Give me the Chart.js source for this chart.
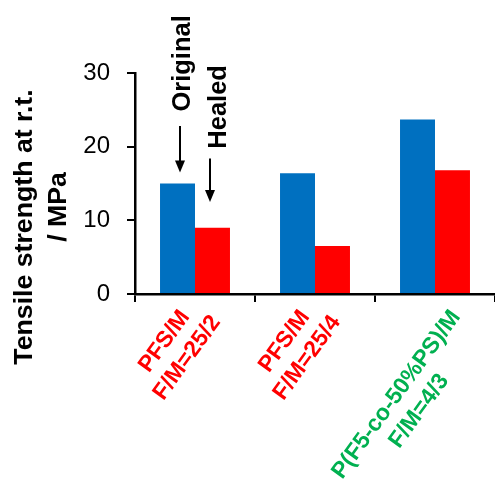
<!DOCTYPE html>
<html><head><meta charset="utf-8">
<script src="https://cdn.jsdelivr.net/npm/chart.js@4/dist/chart.umd.min.js"></script>
<style>html,body{margin:0;padding:0;background:#fff;} #wrap{width:495px;height:479px;}</style>
</head><body><div id="wrap"><canvas id="c" width="495" height="479"></canvas></div>
<script>
const categories = [["PFS/M", "F/M=25/2"], ["PFS/M", "F/M=25/4"], ["P(F5-co-50%PS)/M", "F/M=4/3"]];
const categoryColors = ["#FF0000", "#FF0000", "#00B050"];
const seriesNames = ["Original", "Healed"];
const originalValues = [15.0, 16.4, 23.7];
const healedValues = [9.0, 6.5, 16.8];
const yTicks = [0, 10, 20, 30];
const yTitle = ["Tensile strength at r.t.", "/ MPa"];

const FONT = 'Arial, "Liberation Sans", sans-serif';

function arrow(ctx, x, y1, y2) {
  const hl = 12, hw = 5;
  ctx.beginPath();
  ctx.moveTo(x, y1);
  ctx.lineTo(x, y2 - hl + 1);
  ctx.stroke();
  ctx.beginPath();
  ctx.moveTo(x - hw, y2 - hl);
  ctx.lineTo(x + hw, y2 - hl);
  ctx.lineTo(x, y2);
  ctx.closePath();
  ctx.fill();
}

const textPlugin = {
  id: 'texts',
  afterDraw(chart) {
    const ctx = chart.ctx, xs = chart.scales.x, ys = chart.scales.y;
    const area = chart.chartArea;
    ctx.save();
    // x category labels: rotated, centre-aligned lines; rotated box's top-right pinned near the category
    const fs = 23;
    ctx.font = 'bold ' + fs + 'px ' + FONT;
    const th = 54 * Math.PI / 180, c = Math.cos(th), s = Math.sin(th);
    const lh = 28, capH = 0.716 * fs;
    categories.forEach((lines, i) => {
      const cx = xs.getPixelForValue(i);
      const widths = lines.map(l => ctx.measureText(l).width);
      const W = Math.max(...widths);
      let minY = Infinity, maxX = -Infinity;
      lines.forEach((l, j) => {
        const x0 = -W / 2 - widths[j] / 2, x1 = -W / 2 + widths[j] / 2;
        const y0 = j * lh, y1 = j * lh + capH;
        [[x0, y0], [x1, y0], [x0, y1], [x1, y1]].forEach(([x, y]) => {
          const sx = x * c + y * s, sy = -x * s + y * c;
          if (sx > maxX) maxX = sx;
          if (sy < minY) minY = sy;
        });
      });
      ctx.save();
      ctx.translate(cx + 26 - maxX, xs.top + 13 - minY);
      ctx.rotate(-th);
      ctx.fillStyle = categoryColors[i];
      ctx.textAlign = 'center';
      ctx.textBaseline = 'alphabetic';
      lines.forEach((l, j) => ctx.fillText(l, -W / 2, j * lh + capH));
      ctx.restore();
    });
    // y title
    ctx.font = 'bold 26.7px ' + FONT;
    ctx.fillStyle = '#000';
    const midY = (area.top + area.bottom) / 2;
    [[32, 43.5], [66, 23.5]].forEach((p, j) => {
      ctx.save();
      ctx.translate(p[0], midY + p[1]);
      ctx.rotate(-Math.PI / 2);
      ctx.textAlign = 'center';
      ctx.textBaseline = 'alphabetic';
      ctx.fillText(yTitle[j], 0, 0);
      ctx.restore();
    });
    // series annotations
    const c0 = xs.getPixelForValue(0);
    ctx.font = 'bold 25.5px ' + FONT;
    [[c0 - 5, 31.3], [c0 + 31, 25.4]].forEach((p, j) => {
      ctx.save();
      ctx.translate(p[0], ys.getPixelForValue(p[1]));
      ctx.rotate(-Math.PI / 2);
      ctx.textAlign = 'center';
      ctx.textBaseline = 'alphabetic';
      ctx.fillText(seriesNames[j], 0, 0);
      ctx.restore();
    });
    ctx.strokeStyle = '#000';
    ctx.fillStyle = '#000';
    ctx.lineWidth = 2;
    arrow(ctx, c0 - 15, ys.getPixelForValue(22.8), ys.getPixelForValue(16.5));
    arrow(ctx, c0 + 15, ys.getPixelForValue(18.4), ys.getPixelForValue(12.5));
    ctx.restore();
  }
};

new Chart(document.getElementById('c'), {
  type: 'bar',
  data: {
    labels: categories,
    datasets: [
      { label: seriesNames[0], data: originalValues, backgroundColor: '#0070C0', barPercentage: 1, categoryPercentage: 0.583 },
      { label: seriesNames[1], data: healedValues, backgroundColor: '#FF0000', barPercentage: 1, categoryPercentage: 0.583 }
    ]
  },
  options: {
    responsive: false,
    animation: false,
    layout: { padding: { top: 73, left: 0, right: 0, bottom: 0 } },
    plugins: { legend: { display: false }, tooltip: { enabled: false } },
    scales: {
      x: {
        grid: { display: true, drawOnChartArea: false, drawTicks: true, tickLength: 8, color: '#000', lineWidth: 2, offset: true },
        border: { display: true, color: '#000', width: 2.5 },
        ticks: { display: false },
        afterFit(s) { s.height = 185; }
      },
      y: {
        min: 0, max: 30,
        afterBuildTicks(s) { s.ticks = yTicks.map(v => ({ value: v })); },
        ticks: { font: { family: FONT, size: 24 }, color: '#000', padding: 17 },
        grid: { drawOnChartArea: false, drawTicks: true, tickLength: 8, color: '#000', lineWidth: 2 },
        border: { display: true, color: '#000', width: 2.5 },
        afterFit(s) { s.width = 135; }
      }
    }
  },
  plugins: [textPlugin]
});
</script>
</body></html>
